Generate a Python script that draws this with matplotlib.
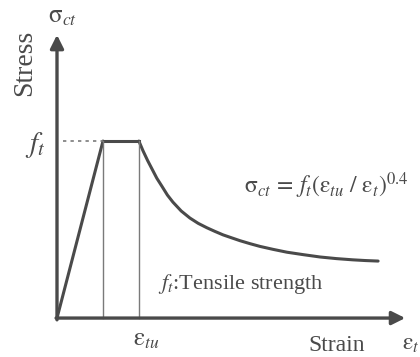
# Tension softening model for concrete: stress-strain sketch
import matplotlib
matplotlib.use('Agg')
import matplotlib.pyplot as plt

plt.rcParams['font.family'] = ['Liberation Serif', 'DejaVu Serif']
plt.rcParams['mathtext.fontset'] = 'stix'

# strain in units of cracking strain, stress in units of f_t
rise_strain = [0.0, 1.0]
rise_stress = [0.0, 1.0]
plateau_strain = [1.0, 1.78]
plateau_stress = [1.0, 1.0]
soft_strain = [1.78, 1.87, 1.97, 2.07, 2.17, 2.28, 2.40, 2.52, 2.70, 2.89,
               3.07, 3.26, 3.43, 3.61, 3.80, 3.98, 4.20, 4.41, 4.70, 5.0,
               5.36, 5.72, 6.07, 6.43, 6.70, 6.98]
soft_stress = [1.0, 0.945, 0.89, 0.84, 0.79, 0.745, 0.695, 0.655, 0.605, 0.565,
               0.535, 0.51, 0.49, 0.47, 0.453, 0.437, 0.42, 0.405, 0.388, 0.372,
               0.358, 0.345, 0.336, 0.329, 0.325, 0.322]
eps_cr = 1.0
eps_tu = 1.78
f_t = 1.0
x_end = 7.57
y_end = 1.60

dark = '#4a4a4a'
thin = '#7a7a7a'

fig = plt.figure(figsize=(4.2, 3.57), dpi=100)
ax = fig.add_axes([0, 0, 1, 1])
ax.set_xlim(-1.239, 7.891)
ax.set_ylim(-0.220, 1.797)
ax.axis('off')

# axes with arrow heads
arrow = dict(arrowstyle='-|>', lw=2.4, color=dark, mutation_scale=20,
             shrinkA=0, shrinkB=0)
ax.annotate('', xy=(x_end, 0), xytext=(-0.02, 0), arrowprops=arrow)
ax.annotate('', xy=(0, y_end), xytext=(0, -0.01), arrowprops=arrow)

# curve
ax.plot(rise_strain, rise_stress, color=dark, lw=2.2, solid_capstyle='round')
ax.plot(plateau_strain, plateau_stress, color=dark, lw=2.2)
ax.plot(soft_strain, soft_stress, color=dark, lw=2.2, solid_capstyle='round',
        solid_joinstyle='round')

# guide lines
ax.plot([eps_cr, eps_cr], [0, f_t], color=thin, lw=1.0)
ax.plot([eps_tu, eps_tu], [0, f_t], color=thin, lw=1.0)
ax.plot([0.12, eps_cr], [f_t, f_t], color=thin, lw=1.2, ls=(0, (2, 2.5)))

# labels
ax.text(0.11, 1.70, r'$\mathrm{\sigma}_{ct}$', fontsize=18, color=dark,
        ha='center', va='center')
ax.text(-0.70, 1.44, 'Stress', fontsize=20, color=dark, rotation=90,
        ha='center', va='center')
ax.text(-0.48, 0.98, r'$f_t$', fontsize=21, color=dark, ha='center', va='center')
ax.text(5.85, 0.75,
        r'$\mathrm{\sigma}_{ct}\,=\,f_t\left(\mathrm{\varepsilon}_{tu}\ /\ \mathrm{\varepsilon}_t\right)^{0.4}$',
        fontsize=17, color=dark, ha='center', va='center')
ax.text(2.2, 0.19, r'$f_t$:Tensile strength', fontsize=16, color=dark,
        ha='left', va='center')
ax.text(1.93, -0.125, r'$\mathrm{\varepsilon}_{tu}$', fontsize=18, color=dark,
        ha='center', va='center')
ax.text(6.07, -0.155, 'Strain', fontsize=17, color=dark, ha='center', va='center')
ax.text(7.50, -0.15, r'$\mathrm{\varepsilon}_t$', fontsize=17, color=dark,
        ha='left', va='center')

plt.savefig('out.png', dpi=100)
